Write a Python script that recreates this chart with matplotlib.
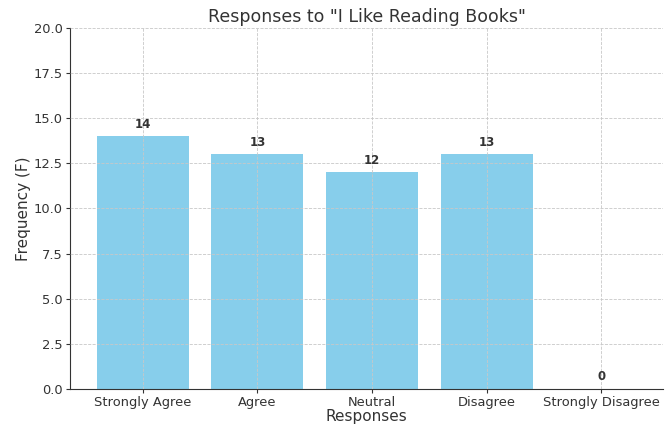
import matplotlib
matplotlib.use("Agg")
from matplotlib import pyplot as plt

responses = ["Strongly Agree", "Agree", "Neutral", "Disagree", "Strongly Disagree"]
frequency = [14, 13, 12, 13, 0]

text_color = "#333333"

fig = plt.figure(figsize=(6.72, 4.25), dpi=100)
ax = fig.add_axes([0.104, 0.085, 0.883, 0.849])

bars = ax.bar(responses, frequency, color="skyblue", width=0.8, zorder=1)
ax.grid(True, linestyle="--", color="#c8c8c8", linewidth=0.6, zorder=2)
ax.set_axisbelow(False)

for bar, value in zip(bars, frequency):
    ax.text(
        bar.get_x() + bar.get_width() / 2,
        value + 0.3,
        str(value),
        ha="center",
        va="bottom",
        fontsize=8.5,
        fontweight="bold",
        color=text_color,
        zorder=3,
    )

ax.set_ylim(0, 20)
ax.set_xlim(-0.635, 4.54)
ax.set_title('Responses to "I Like Reading Books"', fontsize=12.5, color=text_color, pad=4)
ax.set_xlabel("Responses", fontsize=11, color=text_color, labelpad=0)
ax.set_ylabel("Frequency (F)", fontsize=11, color=text_color, labelpad=2)
ax.tick_params(labelsize=9.4, colors=text_color, length=3, pad=2)

for side in ["top", "right"]:
    ax.spines[side].set_visible(False)
for side in ["left", "bottom"]:
    ax.spines[side].set_color(text_color)

fig.savefig("out.png", dpi=100)
